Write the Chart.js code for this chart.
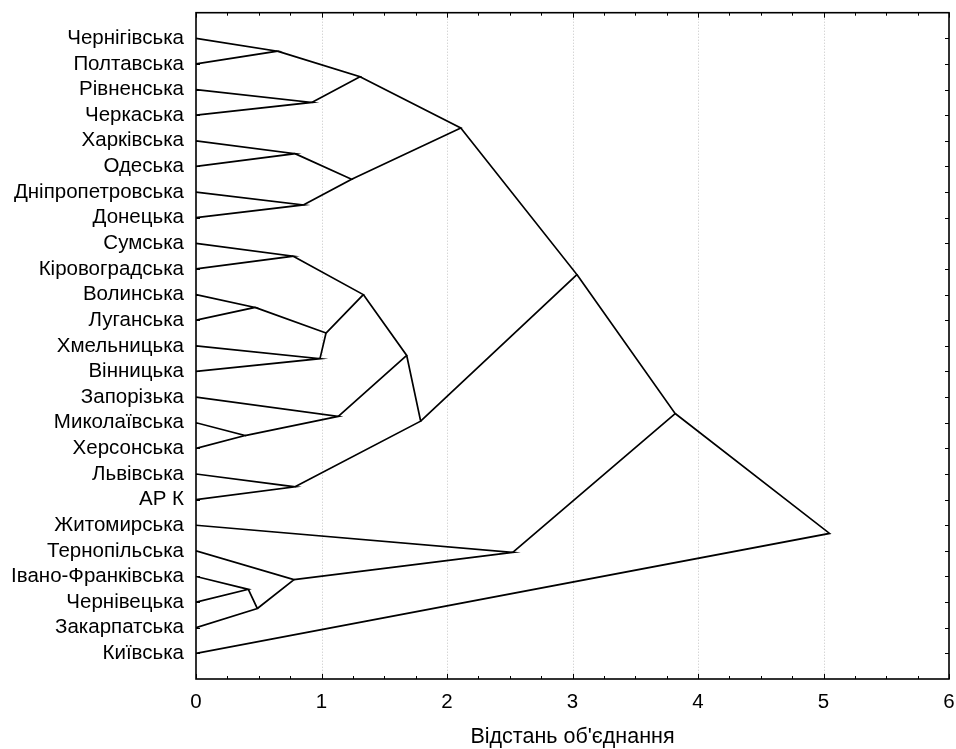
<!DOCTYPE html>
<html>
<head>
<meta charset="utf-8">
<script src="https://cdn.jsdelivr.net/npm/chart.js@4.4.1/dist/chart.umd.min.js"></script>
<style>
    html, body { margin: 0; padding: 0; background: #fff; }
    #wrap { width: 956px; height: 749px; }
</style>
</head>
<body>
<div id="wrap"><canvas id="tree"></canvas></div>
<script>
// leaves, top to bottom
const leaves = [
    'Чернігівська', 'Полтавська', 'Рівненська', 'Черкаська', 'Харківська',
    'Одеська', 'Дніпропетровська', 'Донецька', 'Сумська', 'Кіровоградська',
    'Волинська', 'Луганська', 'Хмельницька', 'Вінницька', 'Запорізька',
    'Миколаївська', 'Херсонська', 'Львівська', 'АР К', 'Житомирська',
    'Тернопільська', 'Івано-Франківська', 'Чернівецька', 'Закарпатська', 'Київська',
]

// merges: index < 25 is a leaf, 25 + k is the cluster made by merge k
const mergeA = [15, 21, 10, 26, 0, 8, 20, 4, 17, 6, 2, 12, 27, 14, 32, 29, 30, 41, 42, 40, 19, 44, 46, 47]
const mergeB = [16, 22, 11, 23, 1, 9, 28, 5, 18, 7, 3, 13, 36, 25, 34, 35, 37, 38, 33, 39, 31, 43, 45, 24]
const mergeDist = [0.39, 0.417, 0.47, 0.489, 0.648, 0.775, 0.781, 0.789, 0.789, 0.855, 0.922, 0.988,
    1.036, 1.134, 1.24, 1.307, 1.333, 1.679, 1.79, 2.11, 2.524, 3.035, 3.818, 5.048]

const xTicks = [0, 1, 2, 3, 4, 5, 6]
const xTitle = 'Відстань об\'єднання'

const FONT = 'Arial, "Liberation Sans", sans-serif'

// node positions: leaves at distance 0, clusters at the middle of their two children
const nodes = leaves.map((name, i) => ({ x: 0, y: i + 1 }))
mergeA.forEach((a, k) => {
    const b = mergeB[k]
    nodes.push({ x: mergeDist[k], y: (nodes[a].y + nodes[b].y) / 2 })
})

const datasets = mergeA.map((a, k) => ({
    data: [nodes[a], nodes[25 + k], nodes[mergeB[k]]],
    showLine: true,
    borderColor: '#000',
    borderWidth: 1.7,
    pointRadius: 0,
    fill: false,
}))

// dotted grid, frame and inward ticks, like the original
const framePlugin = {
    id: 'frame',
    beforeDatasetsDraw(chart) {
        const { ctx, chartArea: a, scales } = chart
        ctx.save()
        ctx.strokeStyle = '#c4c4c4'
        ctx.lineWidth = 1
        ctx.setLineDash([1, 2])
        xTicks.slice(1, -1).forEach((v) => {
            const px = Math.round(scales.x.getPixelForValue(v)) + 0.5
            ctx.beginPath()
            ctx.moveTo(px, a.top)
            ctx.lineTo(px, a.bottom)
            ctx.stroke()
        })
        ctx.restore()
    },
    afterDraw(chart) {
        const { ctx, chartArea: a, scales } = chart
        ctx.save()
        ctx.strokeStyle = '#000'
        ctx.lineWidth = 1
        for (let v = 0; v <= 6.001; v += 0.25) {
            const px = Math.round(scales.x.getPixelForValue(v)) + 0.5
            const len = Math.abs(v - Math.round(v)) < 1e-6 ? 5 : 3
            ctx.beginPath()
            ctx.moveTo(px, a.bottom)
            ctx.lineTo(px, a.bottom - len)
            ctx.moveTo(px, a.top)
            ctx.lineTo(px, a.top + len)
            ctx.stroke()
        }
        for (let i = 1; i <= leaves.length; i++) {
            const py = Math.round(scales.y.getPixelForValue(i)) + 0.5
            ctx.beginPath()
            ctx.moveTo(a.right, py)
            ctx.lineTo(a.right - 4, py)
            ctx.moveTo(a.left, py)
            ctx.lineTo(a.left + 4, py)
            ctx.stroke()
        }
        ctx.lineWidth = 1.6
        ctx.strokeRect(a.left, a.top, a.right - a.left, a.bottom - a.top)
        ctx.restore()
    },
}

new Chart(document.getElementById('tree').getContext('2d'), {
    type: 'scatter',
    data: { datasets },
    options: {
        responsive: true,
        maintainAspectRatio: false,
        animation: false,
        layout: { padding: { top: 12.7, right: 7, left: 0, bottom: 0 } },
        plugins: { legend: { display: false }, tooltip: { enabled: false } },
        scales: {
            x: {
                type: 'linear',
                min: 0,
                max: 6,
                afterFit: (s) => {
                    s.height = 70
                    s.paddingLeft = 0
                    s.paddingRight = 0
                },
                afterBuildTicks: (s) => { s.ticks = xTicks.map((v) => ({ value: v })) },
                border: { display: false },
                grid: { display: false, drawTicks: false },
                ticks: {
                    padding: 11,
                    color: '#000',
                    font: { family: FONT, size: 20.5 },
                },
                title: {
                    display: true,
                    text: xTitle,
                    color: '#000',
                    font: { family: FONT, size: 21.5, lineHeight: 1.1 },
                    padding: { top: 0, bottom: 0 },
                },
            },
            y: {
                type: 'linear',
                min: 0,
                max: 26,
                reverse: true,
                afterFit: (s) => {
                    s.width = 196
                    s.paddingTop = 0
                    s.paddingBottom = 0
                },
                afterBuildTicks: (s) => { s.ticks = leaves.map((n, i) => ({ value: i + 1 })) },
                border: { display: false },
                grid: { display: false, drawTicks: false },
                ticks: {
                    autoSkip: false,
                    padding: 12,
                    color: '#000',
                    font: { family: FONT, size: 20.5 },
                    callback: (v) => leaves[v - 1] || '',
                },
            },
        },
    },
    plugins: [framePlugin],
})
</script>
</body>
</html>
